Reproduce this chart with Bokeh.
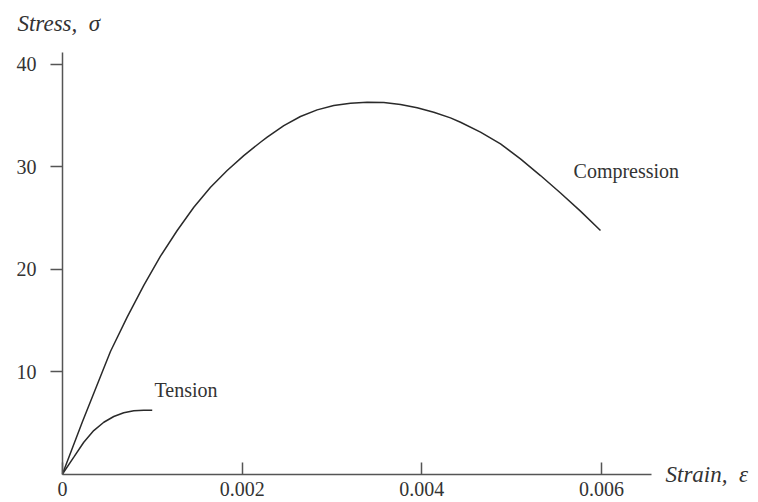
from bokeh.plotting import figure
from bokeh.models import Range1d, FixedTicker, CustomJSTickFormatter, Label
from bokeh.embed import file_html
from bokeh.resources import INLINE

# Compression curve (strain, stress)
comp_strain = [0, 0.000222, 0.000445, 0.000534, 0.000720, 0.000905, 0.001091, 0.001277,
               0.001462, 0.001648, 0.001833, 0.002018, 0.002204, 0.002279, 0.002464,
               0.002649, 0.002835, 0.003020, 0.003206, 0.003392, 0.003577, 0.003763,
               0.003948, 0.004133, 0.004319, 0.004431, 0.004653, 0.004876, 0.005098,
               0.005321, 0.005544, 0.005766, 0.005989]
comp_stress = [0, 5.1, 10.0, 11.95, 15.3, 18.4, 21.25, 23.76,
               26.03, 27.98, 29.61, 31.07, 32.37, 32.86, 34.0,
               34.88, 35.53, 35.95, 36.18, 36.27, 36.24, 36.05,
               35.73, 35.30, 34.75, 34.32, 33.35, 32.21, 30.75,
               29.12, 27.42, 25.65, 23.76]

# Tension curve
ten_strain = [0, 0.000126, 0.000237, 0.000348, 0.000460, 0.000571, 0.000682, 0.000794, 0.000905, 0.000999]
ten_stress = [0, 1.64, 3.10, 4.24, 5.05, 5.61, 5.97, 6.17, 6.22, 6.22]

x_ticks = [0, 0.002, 0.004, 0.006]
y_ticks = [10, 20, 30, 40]
x_axis_end = 0.006557
y_axis_end = 41.12

SERIF = "Liberation Serif"
INK = "#2a2a2a"
AX = "#555555"
TXT = "#333333"

p = figure(width=758, height=502, output_backend="svg", toolbar_location=None,
           x_range=Range1d(-0.00069, 0.007748), y_range=Range1d(-2.78, 46.2),
           min_border_left=0, min_border_right=0, min_border_top=0, min_border_bottom=0)
p.background_fill_color = "white"
p.border_fill_color = "white"
p.outline_line_color = None
p.grid.visible = False

p.line(comp_strain, comp_stress, line_color=INK, line_width=1.5)
p.line(ten_strain, ten_stress, line_color=INK, line_width=1.5)

xa = p.xaxis[0]
xa.fixed_location = 0
xa.bounds = (0, x_axis_end)
xa.ticker = FixedTicker(ticks=x_ticks)
xa.formatter = CustomJSTickFormatter(code="return tick == 0 ? '0' : tick.toFixed(3);")
xa.major_tick_in = 12
xa.major_tick_out = 0
xa.minor_tick_line_color = None
xa.axis_line_color = AX
xa.axis_line_width = 1.5
xa.major_tick_line_color = AX
xa.major_tick_line_width = 1.5
xa.major_label_text_font = SERIF
xa.major_label_text_font_size = "20px"
xa.major_label_text_color = TXT
xa.major_label_standoff = 8

ya = p.yaxis[0]
ya.fixed_location = 0
ya.bounds = (0, y_axis_end)
ya.ticker = FixedTicker(ticks=y_ticks)
ya.major_tick_in = 0
ya.major_tick_out = 12
ya.minor_tick_line_color = None
ya.axis_line_color = AX
ya.axis_line_width = 1.5
ya.major_tick_line_color = AX
ya.major_tick_line_width = 1.5
ya.major_label_text_font = SERIF
ya.major_label_text_font_size = "20px"
ya.major_label_text_color = TXT
ya.major_label_standoff = 14

def lab(x, y, text, italic=False, size="20px"):
    p.add_layout(Label(x=x, y=y, text=text, text_font=SERIF,
                       text_font_style="italic" if italic else "normal",
                       text_font_size=size, text_color=TXT,
                       text_align="left", text_baseline="middle"))

lab(0.001024, 8.15, "Tension")
lab(0.005689, 29.6, "Compression")
lab(0.006713, 0.0, "Strain,\u2002\u03b5", italic=True, size="23px")
lab(-0.000501, 44.0, "Stress,\u2002\u03c3", italic=True, size="23px")

open("out.html", "w").write(file_html(p, INLINE))
